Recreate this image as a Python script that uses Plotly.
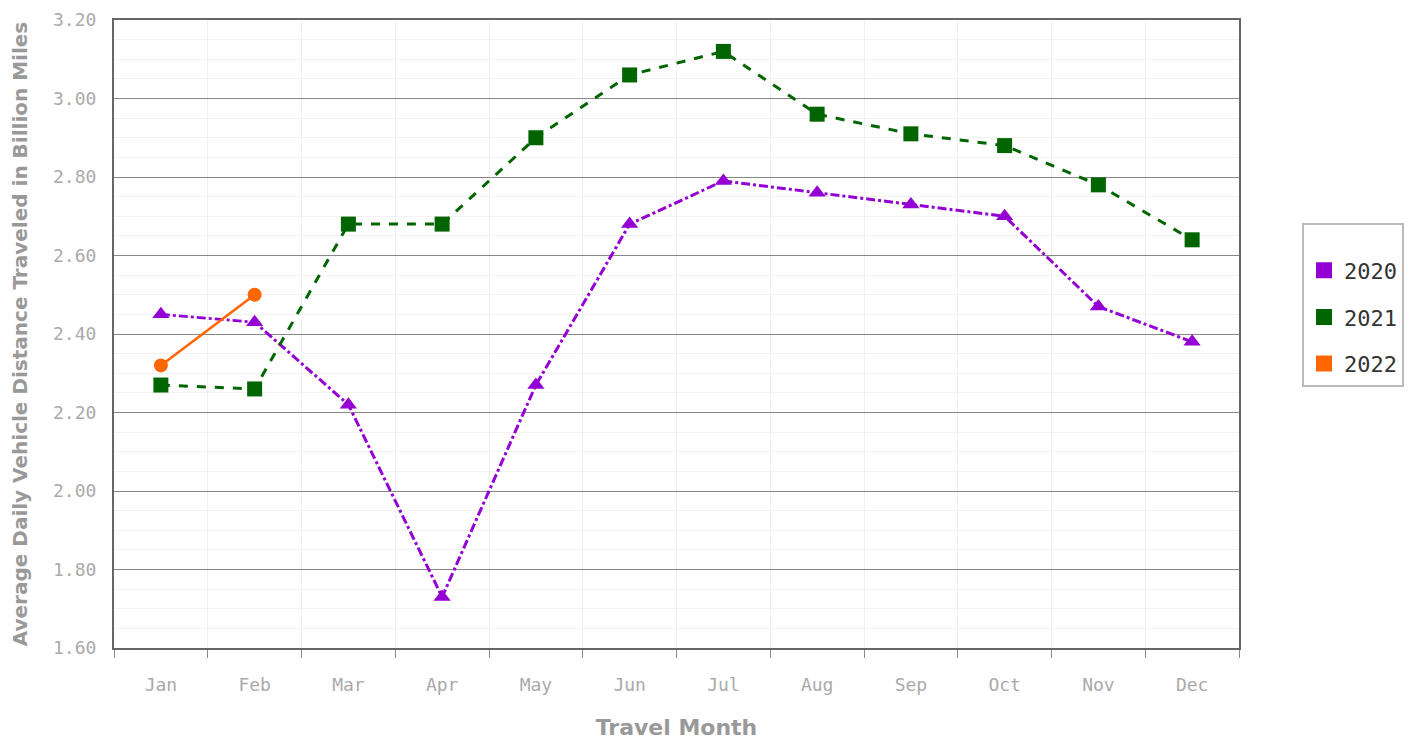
import plotly.graph_objects as go

months = ["Jan", "Feb", "Mar", "Apr", "May", "Jun", "Jul", "Aug", "Sep", "Oct", "Nov", "Dec"]
vmt_2020 = [2.45, 2.43, 2.22, 1.73, 2.27, 2.68, 2.79, 2.76, 2.73, 2.70, 2.47, 2.38]
vmt_2021 = [2.27, 2.26, 2.68, 2.68, 2.90, 3.06, 3.12, 2.96, 2.91, 2.88, 2.78, 2.64]
vmt_2022 = [2.32, 2.50]

C2020 = "#9400D3"
C2021 = "#006400"
C2022 = "#FF6600"
MONO = "DejaVu Sans Mono"

fig = go.Figure()
fig.add_trace(go.Scatter(x=months, y=vmt_2020, mode="lines+markers", name="2020",
                         line=dict(color=C2020, width=3, dash="dashdot"),
                         marker=dict(symbol="triangle-up", size=15, color=C2020),
                         showlegend=False))
fig.add_trace(go.Scatter(x=months, y=vmt_2021, mode="lines+markers", name="2021",
                         line=dict(color=C2021, width=3, dash="dash"),
                         marker=dict(symbol="square", size=15, color=C2021),
                         showlegend=False))
fig.add_trace(go.Scatter(x=months[:len(vmt_2022)], y=vmt_2022, mode="lines+markers", name="2022",
                         line=dict(color=C2022, width=2.5),
                         marker=dict(symbol="circle", size=14, color=C2022),
                         showlegend=False))

for name, col in [("2020", C2020), ("2021", C2021), ("2022", C2022)]:
    fig.add_trace(go.Scatter(x=[None], y=[None], mode="markers", name=name,
                             marker=dict(symbol="square", size=21, color=col),
                             legendgroup=name, showlegend=True))

fig.update_layout(
    width=1411, height=732,
    margin=dict(l=106, r=180, t=12, b=92),
    plot_bgcolor="white", paper_bgcolor="white",
    font=dict(family="DejaVu Sans", color="#999999"),
    legend=dict(x=1.056, y=0.677, xanchor="left", yanchor="top",
                bordercolor="#BBBBBB", borderwidth=2,
                title=dict(text=" ", font=dict(size=19)),
                font=dict(family=MONO, size=22, color="#333333"),
                tracegroupgap=15, itemwidth=30),
)
fig.update_xaxes(
    type="category", range=[-0.5, 11.5], tickson="boundaries", ticks="outside", ticklen=8,
    tickcolor="#888888", tickwidth=1, automargin=False, ticklabelstandoff=19,
    showline=True, linecolor="#666666", linewidth=2, mirror=True,
    showgrid=True, gridcolor="#F0F0F0", gridwidth=1,
    tickfont=dict(family=MONO, size=18, color="#AAAAAA"),
    title=dict(text="<b>Travel Month</b>", font=dict(size=22, color="#999999"), standoff=30),
)
fig.update_yaxes(
    range=[1.6, 3.2], dtick=0.2, tick0=1.6, tickformat=".2f",
    automargin=False, ticklabelstandoff=12,
    showline=True, linecolor="#666666", linewidth=2, mirror=True,
    showgrid=True, gridcolor="#888888", gridwidth=1,
    minor=dict(dtick=0.05, showgrid=True, gridcolor="#F2F2F2"),
    zeroline=False,
    tickfont=dict(family=MONO, size=18, color="#AAAAAA"),
    title=dict(text="<b>Average Daily Vehicle Distance Traveled in Billion Miles</b>",
               font=dict(size=20, color="#999999"), standoff=21),
)

fig.write_html("out.html")
